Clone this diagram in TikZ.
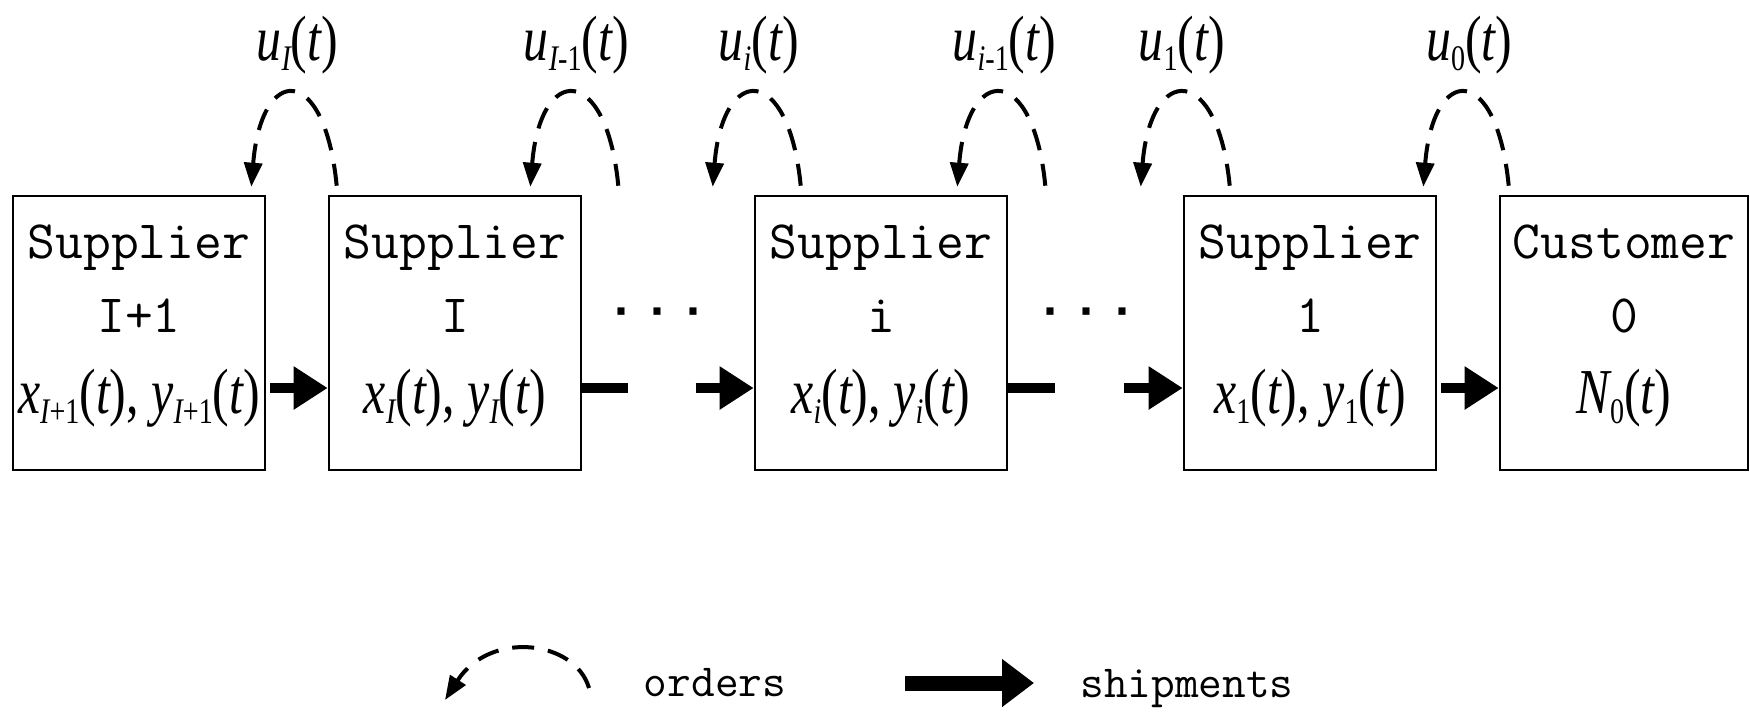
\documentclass[tikz,border=0pt]{standalone}
\usepackage{fontspec}
\usetikzlibrary{arrows.meta,calc}
\newfontfamily\mono{Latin Modern Mono}
\newfontfamily\dotfont{Liberation Mono Bold}
\newfontfamily\mif[FakeStretch=0.78]{Liberation Serif Italic}
\newfontfamily\mup[FakeStretch=0.78]{Liberation Serif}
\newcommand\lo[1]{\raisebox{-5pt}{\fontsize{18}{18}\selectfont #1}}
\newcommand\mth[1]{{\mif\fontsize{32}{32}\selectfont #1}}
\newcommand\ot{{\mup(}t{\mup)}}
\tikzset{
  box/.style={draw, line width=1.3pt, inner sep=0pt, minimum width=126pt,
    minimum height=137pt, align=center, font=\mono\fontsize{27}{37}\selectfont},
  ship/.style={line width=5pt, -{Triangle[length=17pt,width=20.5pt]}},
  shipline/.style={line width=5pt},
  ordr/.style={line width=2pt, dash pattern=on 11pt off 7pt,
    -{Triangle[length=12pt,width=9pt]}},
  lbl/.style={anchor=base, inner sep=0pt},
  dots/.style={anchor=base, inner sep=0pt, font=\dotfont\fontsize{25}{25}\selectfont},
  legtext/.style={anchor=base, inner sep=0pt, font=\mono\fontsize{23}{23}\selectfont}
}
\begin{document}
\begin{tikzpicture}[x=0.5pt, y=-0.5pt]
\useasboundingbox (0,0) rectangle (1750,714);
% boxes
\node[box] (b1) at (139,333) {\rule{0pt}{31pt}Supplier\\I+1\\[3.5pt]\mth{x\lo{I{\mup+}{\mup1}}\ot{\mup,} y\lo{I{\mup+}{\mup1}}\ot}\rule[-28.5pt]{0pt}{28.5pt}};
\node[box] (b2) at (455,333) {\rule{0pt}{31pt}Supplier\\I\\[3.5pt]\mth{x\lo{I}\ot{\mup,} y\lo{I}\ot}\rule[-28.5pt]{0pt}{28.5pt}};
\node[box] (b3) at (881,333) {\rule{0pt}{31pt}Supplier\\i\\[3.5pt]\mth{x\lo{i}\ot{\mup,} y\lo{i}\ot}\rule[-28.5pt]{0pt}{28.5pt}};
\node[box] (b4) at (1310,333) {\rule{0pt}{31pt}Supplier\\1\\[3.5pt]\mth{x\lo{\mup1}\ot{\mup,} y\lo{\mup1}\ot}\rule[-28.5pt]{0pt}{28.5pt}};
\node[box, minimum width=124pt] (b5) at (1624,333) {\rule{0pt}{31pt}Customer\\0\\[3.5pt]\mth{N\lo{\mup0}\ot}\rule[-28.5pt]{0pt}{28.5pt}};
% dots
\node[dots] (d1) at (657,325) {·\hspace{3pt}·\hspace{3pt}·};
\node[dots] (d2) at (1086,325) {·\hspace{3pt}·\hspace{3pt}·};
% shipments
\coordinate (e2) at ($(b2.east)+(46,55)$);
\coordinate (s3) at ($(b3.west)+(-58,55)$);
\coordinate (e3) at ($(b3.east)+(47,55)$);
\coordinate (s4) at ($(b4.west)+(-59,55)$);
\draw[ship] ($(b1.east)+(4,55)$) -- ($(b2.west)+(0,55)$);
\draw[shipline] ($(b2.east)+(0,55)$) -- (e2);
\draw[ship] (s3) -- ($(b3.west)+(0,55)$);
\draw[shipline] ($(b3.east)+(0,55)$) -- (e3);
\draw[ship] (s4) -- ($(b4.west)+(0,55)$);
\draw[ship] ($(b4.east)+(4,55)$) -- ($(b5.west)+(0,55)$);
% orders
\coordinate (t1) at ($(b1.north east)+(-15,-8)$);
\coordinate (s1) at ($(b2.north west)+(9,-9)$);
\coordinate (t2) at ($(b2.north east)+(-52,-8)$);
\coordinate (s2) at ($(t2)+(88,-1)$);
\coordinate (t3) at ($(b3.north west)+(-41,-8)$);
\coordinate (s3o) at ($(b3.north west)+(47,-9)$);
\coordinate (t4) at ($(b3.north east)+(-51,-8)$);
\coordinate (s4o) at ($(t4)+(88,-1)$);
\coordinate (t5) at ($(b4.north west)+(-42,-8)$);
\coordinate (s5) at ($(b4.north west)+(47,-9)$);
\coordinate (t6) at ($(b4.north east)+(-14,-8)$);
\coordinate (s6) at ($(b5.north west)+(10,-9)$);
\foreach \s/\t in {s1/t1, s2/t2, s3o/t3, s4o/t4, s5/t5, s6/t6}
  \draw[ordr] (\s) .. controls +(-12,-123) and +(10,-123) .. (\t);
\node[lbl] (u1) at ($(t1)+(46,-126)$) {\mth{u\lo{I}\ot}};
\node[lbl] (u2) at ($(t2)+(46,-126)$) {\mth{u\lo{I{\mup-}{\mup1}}\ot}};
\node[lbl] (u3) at ($(t3)+(46,-126)$) {\mth{u\lo{i}\ot}};
\node[lbl] (u4) at ($(t4)+(47,-126)$) {\mth{u\lo{i{\mup-}{\mup1}}\ot}};
\node[lbl] (u5) at ($(t5)+(41,-126)$) {\mth{u\lo{\mup1}\ot}};
\node[lbl] (u6) at ($(t6)+(46,-126)$) {\mth{u\lo{\mup0}\ot}};
% legend
\node[legtext] (lo) at (715,696) {orders};
\node[legtext] (ls) at (1187,697) {shipments};
\coordinate (ls1) at (589,688);
\coordinate (lt1) at (445,700);
\draw[ordr] (ls1) .. controls +(-14,-48) and +(45,-70) .. (lt1);
\coordinate (ls2) at (905,683);
\coordinate (lt2) at (1034,683);
\draw[line width=7.5pt, -{Triangle[length=16pt,width=23pt]}] (ls2) -- (lt2);
\end{tikzpicture}
\end{document}
